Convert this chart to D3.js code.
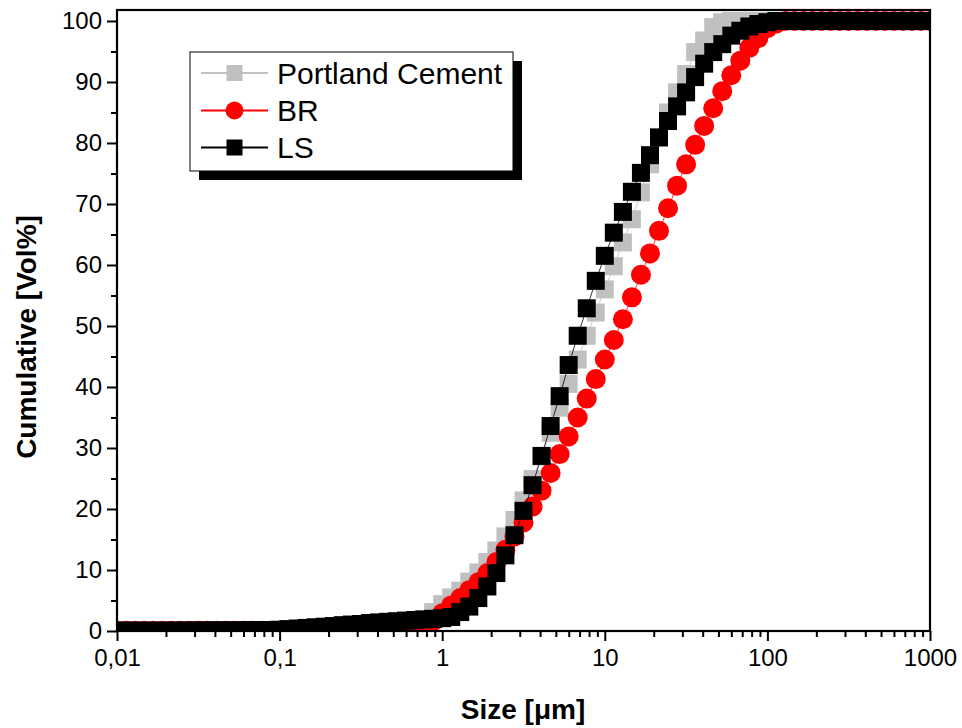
<!DOCTYPE html>
<html lang="en">
  <head>
    <meta charset="UTF-8">
    <script src="https://d3js.org/d3.v7.min.js"></script>
    <style>
      html, body {
        margin: 0;
        padding: 0;
        background: #fff;
      }
      #graph {
        display: block;
        font-family: "Liberation Sans", Arial, sans-serif;
      }
    </style>
  </head>

  <body>
    <svg id="graph" width="962" height="728"></svg>

    <script>
      //
      // Particle sizes (um), log spaced channels.
      //
      const sizes = [
        0.01, 0.01136, 0.01292, 0.01468, 0.01668, 0.01896, 0.02154, 0.02448, 0.02783, 0.03162, 0.03594, 0.04084, 0.04642, 0.05275, 0.05995, 0.06813, 0.07743, 0.08799,
        0.1, 0.1136, 0.1292, 0.1468, 0.1668, 0.1896, 0.2154, 0.2448, 0.2783, 0.3162, 0.3594, 0.4084, 0.4642, 0.5275, 0.5995, 0.6813, 0.7743, 0.8799,
        1, 1.136, 1.292, 1.468, 1.668, 1.896, 2.154, 2.448, 2.783, 3.162, 3.594, 4.084, 4.642, 5.275, 5.995, 6.813, 7.743, 8.799,
        10, 11.36, 12.92, 14.68, 16.68, 18.96, 21.54, 24.48, 27.83, 31.62, 35.94, 40.84, 46.42, 52.75, 59.95, 68.13, 77.43, 87.99,
        100, 113.6, 129.2, 146.8, 166.8, 189.6, 215.4, 244.8, 278.3, 316.2, 359.4, 408.4, 464.2, 527.5, 599.5, 681.3, 774.3, 879.9,
        1000
      ];

      // Cumulative volume [%]
      const pcValues = [
        0.05, 0.05, 0.05, 0.05, 0.05, 0.05, 0.06, 0.06, 0.07, 0.08, 0.09, 0.1, 0.1, 0.11, 0.12, 0.13, 0.14, 0.16,
        0.2, 0.3, 0.4, 0.5, 0.6, 0.7, 0.8, 0.95, 1.05, 1.15, 1.3, 1.4, 1.5, 1.6, 1.7, 1.8, 1.9, 3.1,
        4.4, 5.5, 6.6, 8.1, 9.6, 11.3, 13.2, 15.5, 18.2, 21.4, 24.9, 28.6, 32.5, 36.6, 40.5, 44.5, 48.4, 52.2,
        56.0, 59.8, 63.7, 67.5, 71.9, 76.5, 81.0, 85.0, 88.3, 91.3, 94.9, 96.8, 99.0, 99.8, 100, 100, 100, 100,
        100, 100, 100, 100, 100, 100, 100, 100, 100, 100, 100, 100, 100, 100, 100, 100, 100, 100,
        100
      ];

      const brValues = [
        0.05, 0.05, 0.05, 0.05, 0.05, 0.05, 0.05, 0.05, 0.05, 0.05, 0.05, 0.05, 0.05, 0.05, 0.05, 0.05, 0.05, 0.05,
        0.1, 0.1, 0.1, 0.1, 0.1, 0.1, 0.1, 0.1, 0.1, 0.1, 0.1, 0.15, 0.2, 0.25, 0.3, 0.4, 0.6, 1.6,
        2.9, 4.2, 5.4, 6.7, 8.0, 9.5, 11.3, 13.3, 15.5, 17.8, 20.4, 23.0, 25.9, 29.0, 31.9, 35.0, 38.1, 41.3,
        44.5, 47.7, 51.1, 54.7, 58.4, 61.9, 65.6, 69.3, 73.0, 76.5, 79.7, 82.8, 85.7, 88.5, 91.1, 93.5, 95.6, 97.2,
        98.8, 99.6, 100, 100, 100, 100, 100, 100, 100, 100, 100, 100, 100, 100, 100, 100, 100, 100,
        100
      ];

      const lsValues = [
        0.05, 0.05, 0.05, 0.05, 0.05, 0.05, 0.06, 0.06, 0.07, 0.08, 0.09, 0.1, 0.1, 0.11, 0.12, 0.13, 0.14, 0.16,
        0.2, 0.3, 0.4, 0.5, 0.6, 0.7, 0.8, 0.95, 1.05, 1.15, 1.3, 1.4, 1.5, 1.6, 1.7, 1.8, 1.9, 2.0,
        2.1, 2.3, 3.1, 4.0, 5.4, 7.3, 9.5, 12.4, 15.7, 19.7, 23.9, 28.7, 33.6, 38.5, 43.6, 48.4, 52.9, 57.4,
        61.5, 65.3, 68.7, 72.0, 75.1, 78.0, 80.9, 83.6, 86.0, 88.3, 90.8, 93.0, 94.9, 96.2, 97.6, 98.4, 99.1, 99.5,
        99.8, 100, 100, 100, 100, 100, 100, 100, 100, 100, 100, 100, 100, 100, 100, 100, 100, 100,
        100
      ];

      const seriesNames = ['Portland Cement', 'BR', 'LS'];
      const seriesColors = ['#c0c0c0', '#ff0000', '#000000'];
      const seriesSymbols = ['square', 'circle', 'square'];

      const xTickValues = [0.01, 0.1, 1, 10, 100, 1000];
      const xTickLabels = ['0,01', '0,1', '1', '10', '100', '1000'];
      const yTickValues = [0, 10, 20, 30, 40, 50, 60, 70, 80, 90, 100];
      const yMinorValues = [5, 15, 25, 35, 45, 55, 65, 75, 85, 95];

      let plotLeft = 117, plotRight = 930, plotTop = 10, plotBottom = 631;

      let x = d3.scaleLog().domain([0.01, 1000]).range([plotLeft, plotRight]);
      let y = d3.scaleLinear().domain([0, 101.8]).range([plotBottom, plotTop]);

      let graph = d3.select('#graph');

      graph.append('defs')
        .append('clipPath')
        .attr('id', 'plotClip')
        .append('rect')
        .attr('x', plotLeft)
        .attr('y', plotTop)
        .attr('width', plotRight - plotLeft)
        .attr('height', plotBottom - plotTop);

      //
      // Series: line + markers, gray first, black on top.
      //
      let allValues = [pcValues, brValues, lsValues];
      let plot = graph.append('g').attr('clip-path', 'url(#plotClip)');

      let line = d3.line()
        .x(d => x(d.s))
        .y(d => y(d.v));

      allValues.forEach((vals, i) => {
        let data = sizes.map((s, j) => ({ s: s, v: vals[j] }));
        let g = plot.append('g');

        g.append('path')
          .datum(data)
          .attr('d', line)
          .attr('fill', 'none')
          .attr('stroke', seriesColors[i])
          .attr('stroke-width', 0.8);

        let sym = d3.symbol()
          .type(seriesSymbols[i] === 'circle' ? d3.symbolCircle : d3.symbolSquare)
          .size(seriesSymbols[i] === 'circle' ? Math.PI * 100 : 324);

        g.selectAll('path.mark')
          .data(data)
          .enter()
          .append('path')
          .attr('class', 'mark')
          .attr('d', sym)
          .attr('transform', d => `translate(${x(d.s)},${y(d.v)})`)
          .attr('fill', seriesColors[i]);
      });

      //
      // Axes and frame.
      //
      let xMinor = x.ticks().filter(t => xTickValues.indexOf(t) < 0);

      graph.append('g')
        .attr('transform', `translate(0,${plotBottom})`)
        .call(d3.axisBottom(x).tickValues(xTickValues)
          .tickFormat((d, i) => xTickLabels[i]).tickSize(10).tickPadding(8));
      graph.append('g')
        .attr('transform', `translate(0,${plotBottom})`)
        .call(d3.axisBottom(x).tickValues(xMinor).tickFormat('').tickSize(6));

      graph.append('g')
        .attr('transform', `translate(${plotLeft},0)`)
        .call(d3.axisLeft(y).tickValues(yTickValues).tickSize(10).tickPadding(5));
      graph.append('g')
        .attr('transform', `translate(${plotLeft},0)`)
        .call(d3.axisLeft(y).tickValues(yMinorValues).tickFormat('').tickSize(6));

      graph.selectAll('.domain').remove();
      graph.selectAll('.tick line').attr('stroke', '#000').attr('stroke-width', 2);
      graph.selectAll('.tick text')
        .attr('fill', '#000')
        .style('font-family', '"Liberation Sans", Arial, sans-serif')
        .style('font-size', '24px');

      graph.append('rect')
        .attr('x', plotLeft)
        .attr('y', plotTop)
        .attr('width', plotRight - plotLeft)
        .attr('height', plotBottom - plotTop)
        .attr('fill', 'none')
        .attr('stroke', '#000')
        .attr('stroke-width', 2.2);

      //
      // Axis titles.
      //
      graph.append('text')
        .attr('x', 523)
        .attr('y', 719)
        .attr('text-anchor', 'middle')
        .style('font-size', '28px')
        .style('font-weight', 'bold')
        .text('Size [\u03bcm]');

      graph.append('text')
        .attr('transform', `translate(36,337) rotate(-90)`)
        .attr('text-anchor', 'middle')
        .style('font-size', '28px')
        .style('font-weight', 'bold')
        .text('Cumulative [Vol%]');

      //
      // Legend.
      //
      let lg = graph.append('g');
      lg.append('rect')
        .attr('x', 199).attr('y', 61)
        .attr('width', 323).attr('height', 119)
        .attr('fill', '#000');
      lg.append('rect')
        .attr('x', 190).attr('y', 52)
        .attr('width', 323).attr('height', 119)
        .attr('fill', '#fff')
        .attr('stroke', '#000')
        .attr('stroke-width', 1);

      let rowY = [73, 110.5, 147.5];
      seriesNames.forEach((name, i) => {
        lg.append('line')
          .attr('x1', 201).attr('x2', 268)
          .attr('y1', rowY[i]).attr('y2', rowY[i])
          .attr('stroke', seriesColors[i])
          .attr('stroke-width', 2);
        let sym = d3.symbol()
          .type(seriesSymbols[i] === 'circle' ? d3.symbolCircle : d3.symbolSquare)
          .size(seriesSymbols[i] === 'circle' ? Math.PI * 81 : 256);
        lg.append('path')
          .attr('d', sym)
          .attr('transform', `translate(234.5,${rowY[i]})`)
          .attr('fill', seriesColors[i]);
        lg.append('text')
          .attr('x', 277)
          .attr('y', rowY[i] + 10.5)
          .style('font-size', '30px')
          .text(name);
      });
    </script>
  </body>
</html>
